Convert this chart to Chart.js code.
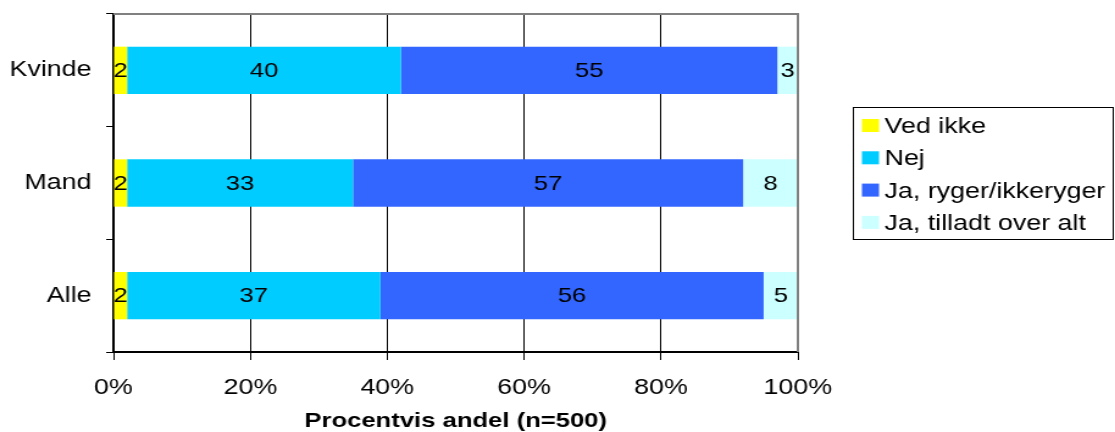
<!DOCTYPE html>
<html>
<head>
<meta charset="utf-8">
<script src="https://cdn.jsdelivr.net/npm/chart.js@4"></script>
<style>
  html, body { margin: 0; padding: 0; background: #fff; overflow: hidden; }
  /* the original is an Excel chart stretched sideways, so we stretch too */
  #wrap { width: 914px; height: 432px; transform: scaleX(1.22); transform-origin: 0 0; }
</style>
</head>
<body>
<div id="wrap"><canvas id="graf"></canvas></div>
<script>
// data
const kategorier = ['Kvinde', 'Mand', 'Alle'];
const vedIkke = [2, 2, 2];
const nej = [40, 33, 37];
const jaRyger = [55, 57, 56];
const jaTilladt = [3, 8, 5];
const serieNavne = ['Ved ikke', 'Nej', 'Ja, ryger/ikkeryger', 'Ja, tilladt over alt'];
const farver = ['#FFFF00', '#00CCFF', '#3366FF', '#CCFFFF'];
const xMax = 100;
const xStep = 20;

const font = 'Arial, "Liberation Sans", sans-serif';

// værdier midt i hver bjælke
const vaerdiLabels = {
  id: 'vaerdiLabels',
  afterDatasetsDraw(chart) {
    const ctx = chart.ctx;
    ctx.save();
    ctx.font = '21px ' + font;
    ctx.fillStyle = '#000';
    ctx.textAlign = 'center';
    ctx.textBaseline = 'middle';
    chart.data.datasets.forEach((ds, i) => {
      chart.getDatasetMeta(i).data.forEach((bar, j) => {
        const p = bar.getProps(['x', 'base', 'y'], true);
        ctx.fillText(ds.data[j], (p.x + p.base) / 2, p.y + 1);
      });
    });
    ctx.restore();
  }
};

// grå ramme top og højre
const ramme = {
  id: 'ramme',
  afterDraw(chart) {
    const { left, top, right, bottom } = chart.chartArea;
    const ctx = chart.ctx;
    ctx.save();
    ctx.strokeStyle = '#808080';
    ctx.lineWidth = 2;
    ctx.beginPath();
    ctx.moveTo(left, top);
    ctx.lineTo(right, top);
    ctx.lineTo(right, bottom);
    ctx.stroke();
    ctx.restore();
  }
};

// forklaring med kasse
const forklaring = {
  id: 'forklaring',
  afterDraw(chart) {
    const ctx = chart.ctx;
    const x0 = 699.5, y0 = 107.5, w = 213, h = 132;
    ctx.save();
    ctx.strokeStyle = '#000';
    ctx.lineWidth = 1;
    ctx.strokeRect(x0, y0, w, h);
    ctx.font = '22px ' + font;
    ctx.textBaseline = 'middle';
    ctx.textAlign = 'left';
    chart.data.datasets.forEach((ds, i) => {
      const cy = 127 + i * 32.3;
      ctx.fillStyle = ds.backgroundColor;
      ctx.fillRect(706.5, cy - 8, 14, 13);
      ctx.fillStyle = '#000';
      ctx.fillText(ds.label, 725, cy);
    });
    ctx.restore();
  }
};

const datasets = [vedIkke, nej, jaRyger, jaTilladt].map((d, i) => ({
  label: serieNavne[i],
  data: d,
  backgroundColor: farver[i],
  borderWidth: 0,
  categoryPercentage: 0.42,
  barPercentage: 1
}));

new Chart(document.getElementById('graf'), {
  type: 'bar',
  data: { labels: kategorier, datasets },
  options: {
    indexAxis: 'y',
    responsive: true,
    maintainAspectRatio: false,
    animation: false,
    layout: { padding: { top: 14, right: 260, left: 0, bottom: 0 } },
    plugins: {
      legend: { display: false },
      tooltip: { enabled: false }
    },
    scales: {
      x: {
        stacked: true,
        min: 0,
        max: xMax,
        afterFit: s => { s.height = 80; },
        ticks: {
          stepSize: xStep,
          callback: v => v + '%',
          color: '#000',
          font: { family: font, size: 22 },
          padding: 15
        },
        grid: { color: '#000', lineWidth: 1, tickLength: 8 },
        border: { display: true, color: '#000', width: 2 },
        title: {
          display: true,
          text: 'Procentvis andel (n=500)',
          color: '#000',
          font: { family: font, size: 21, weight: 'bold', lineHeight: 1 },
          padding: 0
        }
      },
      y: {
        stacked: true,
        afterFit: s => { s.width = 93; s.paddingTop = 0; s.paddingBottom = 0; },
        ticks: {
          color: '#000',
          font: { family: font, size: 22 },
          padding: 12
        },
        grid: { drawOnChartArea: false, drawTicks: true, tickLength: 6, color: '#000', offset: true },
        border: { display: true, color: '#000', width: 2 }
      }
    }
  },
  plugins: [vaerdiLabels, ramme, forklaring]
});
</script>
</body>
</html>
